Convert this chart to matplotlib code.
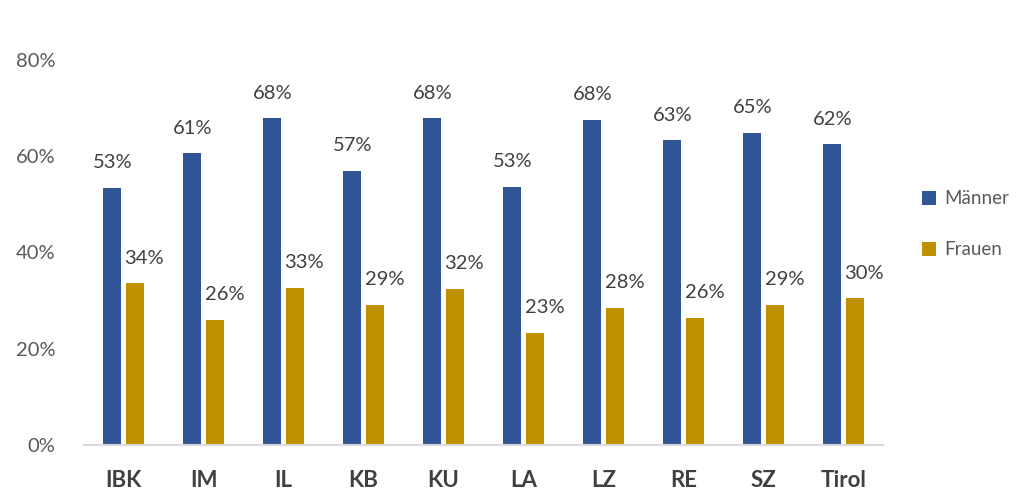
import matplotlib
matplotlib.use("Agg")
import matplotlib.pyplot as plt
import numpy as np

categories = ["IBK", "IM", "IL", "KB", "KU", "LA", "LZ", "RE", "SZ", "Tirol"]
maenner = [53, 61, 68, 57, 68, 53, 68, 63, 65, 62]
frauen = [34, 26, 33, 29, 32, 23, 28, 26, 29, 30]
maenner_bar = [53.4, 60.6, 67.9, 56.9, 67.9, 53.6, 67.5, 63.3, 64.8, 62.5]
frauen_bar = [33.6, 26.0, 32.6, 29.1, 32.4, 23.3, 28.5, 26.4, 29.1, 30.5]
yticks = [0, 20, 40, 60, 80]

plt.rcParams['font.family'] = ['Lato', 'DejaVu Sans']

fig = plt.figure(figsize=(10.21, 4.93), dpi=100)
ax = fig.add_axes([0.0818, 0.0974, 0.7835, 0.7809])

x = np.arange(len(categories))
w = 0.225
off = 0.14
blue = "#2F5597"
gold = "#BF9000"
b1 = ax.bar(x - off, maenner_bar, w, color=blue, label="Männer")
b2 = ax.bar(x + off, frauen_bar, w, color=gold, label="Frauen")

for xi, v, lab in zip(x - off, maenner_bar, maenner):
    ax.annotate(f"{lab}%", (xi, v), xytext=(0, 12), textcoords="offset points",
                ha="center", va="bottom", fontsize=14.5, color="#404040")
for xi, v, lab in zip(x + off, frauen_bar, frauen):
    ax.annotate(f"{lab}%", (xi, v), xytext=(7, 12), textcoords="offset points",
                ha="center", va="bottom", fontsize=14.5, color="#404040")

ax.set_xlim(-0.5, len(categories) - 0.5)
ax.set_ylim(0, 80)
ax.set_yticks(yticks)
ax.set_yticklabels([f"{t}%" for t in yticks], fontsize=14.5, color="#595959")
ax.set_xticks(x)
ax.set_xticklabels(categories, fontsize=16, fontweight="bold", color="#404040")
ax.tick_params(axis="y", length=0, pad=20)
ax.tick_params(axis="x", length=0, pad=18)
for s in ["top", "right", "left"]:
    ax.spines[s].set_visible(False)
ax.spines["bottom"].set_color("#D9D9D9")
ax.spines["bottom"].set_linewidth(1.5)

fig.legend(handles=[b1, b2], loc="center left", bbox_to_anchor=(0.903, 0.545),
           frameon=False, fontsize=13.5, labelcolor="#595959", handlelength=0.75,
           handleheight=0.75, handletextpad=0.45, labelspacing=1.8,
           borderpad=0, borderaxespad=0)

fig.savefig("out.png", dpi=100)
